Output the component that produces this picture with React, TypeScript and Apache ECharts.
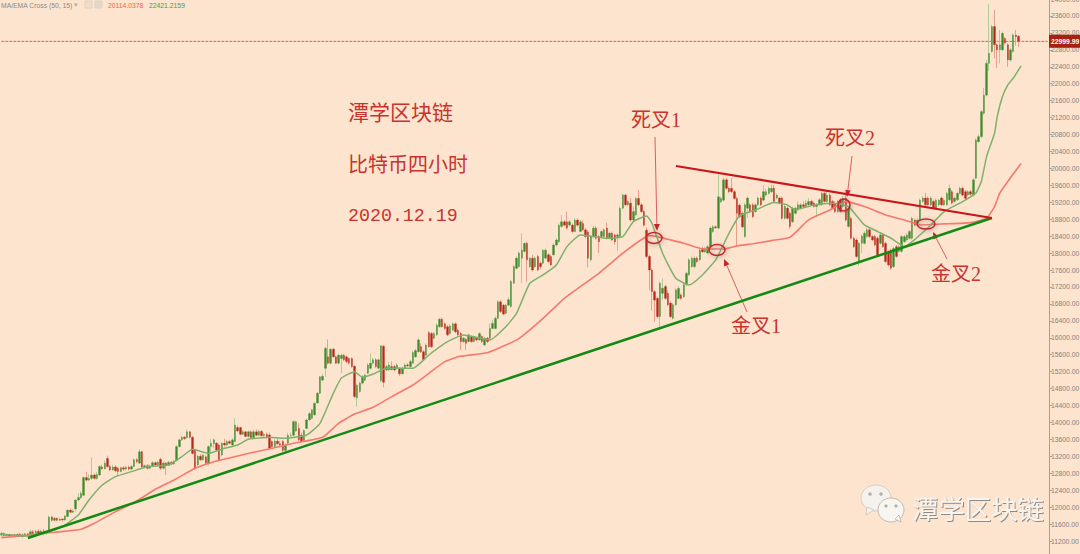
import React, { useEffect, useRef } from "react";
import * as echarts from "echarts";

// [open, close, low, high]
const ohlc: number[][] = [
[11340,11380,11310,11420],[11380,11330,11300,11400],[11330,11350,11310,11370],[11350,11320,11290,11370],[11320,11350,11300,11370],[11350,11320,11290,11370],[11320,11360,11310,11380],[11360,11330,11300,11390],[11330,11350,11270,11380],[11350,11370,11320,11390],[11370,11340,11310,11390],
[11340,11420,11330,11470],[11420,11380,11340,11460],[11380,11430,11360,11470],[11430,11390,11350,11480],[11390,11440,11370,11470],[11440,11400,11330,11490],[11400,11420,11350,11450],[11430,11770,11420,11800],
[11770,11690,11660,11790],[11690,11740,11670,11770],[11740,11690,11670,11750],[11690,11720,11670,11750],[11720,11700,11660,11740],[11700,11790,11680,11810],[11780,11930,11770,11950],[11930,11880,11860,11970],[11880,11910,11860,11950],[11960,12170,11900,12190],
[12170,12230,12140,12330],[12220,12330,12200,12370],[12280,12700,12270,12720],[12700,12640,12610,12830],[12640,12680,12620,12780],[12680,12760,12640,13180],[12760,12680,12650,12800],[12680,12770,12650,12830],[12760,12960,12740,12990],[12950,12910,12880,13000],[12910,13040,12890,13100],
[13150,12960,12930,13220],[12960,12880,12850,13000],[12880,12950,12860,13000],[12950,12860,12830,12990],[12920,12840,12740,12950],[12840,12930,12820,12960],[12930,12900,12860,12970],[12900,12940,12870,12980],[12940,12900,12870,12980],[12900,12960,12880,13000],
[12960,13120,12940,13150],[13120,13080,13040,13160],[13040,13310,13020,13370],[13310,12950,12910,13330],[12950,12980,12920,13010],[12980,12920,12890,13020],[12920,12960,12900,13010],[12960,13050,12940,13090],[13050,13000,12980,13080],[13000,13060,12980,13100],
[13130,12920,12880,13170],[12920,13040,12890,13080],[13040,12990,12760,13070],[12990,13060,12970,13090],[13060,13020,12990,13090],[13020,13080,13000,13110],[13100,13430,13080,13460],[13430,13590,13410,13620],[13590,13650,13570,13680],[13650,13620,13590,13680],
[13640,13780,13620,13830],[13780,13650,13620,13800],[13650,13270,13240,13680],[13350,12920,12890,13380],[13000,13200,12970,13230],[13200,13120,13090,13250],[13120,13230,13100,13260],[13190,13040,13010,13220],[13040,13430,12980,13460],[13430,13510,13290,13620],
[13500,13590,13400,13620],[13510,13350,13330,13540],[13470,13120,13090,13500],[13230,13510,13200,13540],[13510,13470,13430,13620],[13470,13550,13440,13590],[13550,13510,13490,13590],[13470,13590,13440,13630],[13550,13940,13530,14100],[13880,13800,13770,13930],
[13880,13720,13700,13900],[13720,13780,13700,13820],[13780,13670,13650,13800],[13670,13780,13640,13810],[13780,13640,13620,13810],[13640,13780,13620,13830],[13780,13700,13680,13840],[13700,13790,13680,13830],[13790,13690,13660,13820],[13690,13720,13660,13760],[13720,13650,13620,13760],
[13705,13390,13370,13760],[13550,13430,13400,13580],[13430,13560,13400,13600],[13560,13500,13470,13610],[13500,13470,13440,13560],[13550,13340,13300,13590],[13340,13470,13310,13510],[13510,13700,13480,13760],[13690,13700,13650,13760],[13700,14020,13680,14050],
[13800,14020,13780,14040],[13860,13590,13560,13980],[13700,13550,13530,13760],[13580,13810,13560,13840],[13860,14060,13840,14090],[14060,14210,14040,14240],[14100,14300,14080,14320],[14180,14450,14160,14480],[14460,14690,14440,14720],[14690,15080,14670,15100],
[15000,15090,14970,15150],[15280,15750,15080,15790],[15550,15400,15370,15960],[15400,15730,15370,15750],[15730,15550,15530,15760],[15550,15400,15380,15580],[15400,15590,15370,15620],[15510,15590,15160,15620],[15590,15480,15450,15620],[15550,15440,15400,15580],
[15510,15400,15370,15540],[15510,15320,15290,15540],[15330,14610,14580,15350],[14580,14880,14370,14920],[14730,14930,14700,14960],[14930,15080,14900,15120],[15000,15120,14970,15150],[15160,15360,15140,15400],[15280,15400,15250,15630],[15400,15480,15370,15520],
[15480,15320,15290,15520],[15280,15480,15250,15510],[14990,15810,14950,15830],[15800,14950,14830,15830],[15240,15320,15210,15360],[15240,15360,15220,15430],[15320,15250,15230,15440],[15320,15240,15210,15360],[15280,15360,15250,15400],[15280,15150,15100,15310],
[15150,15280,15130,15320],[15280,15360,15250,15400],[15360,15340,15310,15400],[15320,15440,15300,15480],[15400,15650,15390,15690],[15550,15700,15530,15740],[15670,15950,15650,16000],[15790,15670,15640,15870],[15670,15480,15450,15710],[15590,15830,15570,15870],
[16120,15790,15770,16160],[16100,15790,15760,16140],[15990,16100,15960,16130],[16070,16300,16040,16340],[16260,16440,16240,16470],[16440,16260,16240,16480],[16330,16220,16190,16360],[16260,16070,16040,16300],[16100,16280,16080,16320],[16180,16330,16160,16360],
[16330,16140,16110,16360],[16180,16070,16040,16220],[16100,15910,15710,16140],[15910,15990,15880,16020],[15960,15870,15710,15990],[15910,16070,15890,16100],[16030,15910,15880,16060],[15910,16030,15890,16060],[15990,15950,15920,16020],[15950,16100,15930,16130],
[16030,15910,15880,16060],[15830,15990,15800,16020],[15990,15910,15880,16020],[15990,16220,15960,16340],[16220,16340,16200,16420],[16220,16460,16200,16500],[16460,16850,16440,16890],[16850,16620,16590,16890],[16770,16560,16530,16800],[16580,16770,16550,16800],[16770,16900,16750,16960],
[16740,17330,16700,17370],[17290,17680,17270,17720],[17640,17880,17620,17920],[17680,18000,17660,18040],[17880,18070,17290,18470],[18040,18230,18010,18260],[18230,17840,17320,18270],[17680,17880,17650,17910],[17880,17600,17570,17960],[17680,17880,17650,17920],
[17920,17600,17570,17960],[17760,17680,17620,17800],[17760,18070,17730,18100],[17880,18070,17850,18110],[17960,17800,17770,18000],[17920,17720,17700,17960],[17960,18190,17930,18230],[18190,18310,18160,18350],[18270,18660,18240,18700],[18630,18740,18600,18900],
[18740,18660,18630,18780],[18740,18590,18560,18980],[18660,18740,18630,18780],[18660,18510,18480,18700],[18510,18780,18490,18830],[18780,18660,18630,18820],[18510,18740,18490,18780],[18700,18550,18520,18780],[18550,18390,18360,18600],[18500,17880,17660,18540],
[17840,18390,17800,18430],[18390,18590,18360,18640],[18590,18350,18320,18640],[18390,18270,18000,18430],[18390,18510,18360,18550],[18390,18550,18360,18590],[18590,18350,18320,18720],[18350,18470,18320,18500],[18470,18310,18280,18510],[18430,18270,18200,18460],
[18390,18430,18040,18460],[18390,19060,18360,19100],[19060,19370,19030,19410],[19370,19140,19110,19400],[19140,19220,19110,19250],[19180,18780,18750,19300],[18780,18980,18750,19100],[18900,19290,18870,19330],[19290,19140,19110,19490],[19140,18980,18950,19180],
[18980,18660,18630,19020],[18540,17920,17880,18600],[17920,17600,17120,17960],[17600,17090,16640,17640],[17090,16890,16380,17130],[16930,16500,16460,16970],[16500,17290,16230,17330],[17050,17170,16900,17400],[17210,16930,16900,17250],[17050,16780,16750,17120],
[16820,16500,16470,16860],[16460,16780,16430,16820],[16780,17130,16750,17170],[16930,17170,16900,17210],[17010,16930,16900,17050],[16970,17250,16940,17290],[17250,17520,17220,17560],[17490,17840,17460,17880],[17680,17880,17650,17920],[17680,17880,17650,17920],
[17880,17800,17770,17920],[17840,18070,17810,18100],[18110,18030,18000,18150],[18030,18110,18000,18150],[18000,18150,17970,18190],[18150,18590,18120,18630],[18510,18620,18480,18660],[18620,18600,18570,18660],[18590,19330,18560,19850],[19210,19290,19180,19330],
[19250,19730,19220,19780],[19730,19530,19500,19770],[19530,19450,19420,19570],[19530,19450,19420,19770],[19450,19290,19260,19490],[19290,18940,18150,19330],[19130,18860,18830,19170],[18940,18620,18590,18980],[18390,19140,18360,19180],
[19060,19300,18830,19340],[19140,18980,18950,19180],[19140,18860,18830,19180],[18980,19140,18950,19180],[19140,19300,19110,19340],[19300,19140,19110,19340],[19250,19450,19220,19600],[19370,19450,19340,19520],[19410,19530,19380,19570],[19450,19530,19420,19620],
[19530,19220,19190,19610],[19300,19370,19270,19410],[19300,19180,19150,19330],[19300,18820,18790,19340],[18820,19100,18790,19140],[19060,18820,18790,19100],[18940,18630,18570,18980],[18740,19060,18710,19100],[18940,19060,18910,19100],[19020,19140,18990,19220],
[19060,19140,19030,19180],[19140,19100,19070,19220],[19100,19180,19070,19250],[19140,19220,19110,19300],[19220,19140,19110,19260],[19180,19100,19070,19220],[19100,19140,18860,19180],[19140,19260,19110,19300],[19140,19410,19110,19450],[19410,19220,19190,19450],
[19220,19370,19190,19450],[19370,19140,19110,19410],[19220,19060,19030,19260],[19180,18980,18950,19220],[18980,19220,18950,19260],[19260,18980,18950,19300],[19100,19300,19070,19340],[19300,18780,18750,19480],[18630,19060,18600,19100],[18820,18350,18320,18860],
[18350,18150,18120,18390],[18310,17920,17880,18350],[17800,18230,17700,18270],[18230,18400,18000,18440],[18230,18470,18200,18520],[18390,18550,18360,18590],[18550,18390,18360,18590],[18390,18310,18280,18430],[18390,18190,18160,18430],[18350,17960,17930,18390],
[18230,18430,18200,18470],[18430,18150,18120,18470],[18230,17800,17770,18270],[18030,17720,17690,18070],[18070,17640,17610,18110],[17680,18110,17650,18150],[18150,17920,17890,18190],[18040,18150,18010,18190],[18040,18390,18010,18430],[18270,18390,18240,18430],
[18310,18430,18280,18470],[18350,18510,18320,18550],[18350,18820,18320,18860],[18780,18660,18630,18820],[18700,18780,18670,18820],[18780,19250,18750,19290],[19220,19300,19190,19340],[19300,19140,19110,19420],[19300,19140,19110,19340],[19140,19300,19110,19340],
[19220,19060,19030,19260],[19060,19250,19030,19290],[19140,19250,19110,19290],[19300,19140,19110,19340],[19140,19250,19110,19290],[19140,19410,19110,19450],[19260,19530,19230,19620],[19450,19180,19150,19490],[19220,19300,19190,19340],[19260,19410,19230,19450],
[19410,19530,19380,19570],[19530,19370,19340,19570],[19450,19290,19260,19490],[19370,19450,19340,19490],[19450,19390,19360,19490],[19370,19730,19340,19770],[19770,20670,19740,20710],[20630,20750,20600,20800],[20750,21340,20720,21380],[21300,21730,21270,21900],
[21730,22480,21700,22560],[22480,22720,22300,23880],[22760,23350,22730,23390],[23350,22920,22600,23740],[22920,22800,22370,22950],[22800,22920,22480,23270],[22800,23190,22770,23230],[23070,22960,22930,23100],[22920,22560,22400,22950],[22560,22800,22520,22840],
[22760,23150,22730,23190],[23150,23110,22900,23270],[23120,22999.99,22870,23150],
];

// [candle index, value]
const ma50: number[][] = [
[0,11281],[8,11320],[16,11383],[20,11407],[30,11478],[35,11619],[43,11895],[50,12107],[58,12422],[65,12642],[73,12918],[80,13075],[89,13209],[96,13311],[102,13390],[110,13508],[121,13650],[127,13980],[133,14200],[140,14358],[147,14610],[155,14885],[161,15161],[167,15436],[172,15554],[183,15649],[190,15830],[195,15987],[204,16459],[212,16933],[225,17523],[234,17996],[244,18413],[247,18389],[251,18326],[257,18232],[264,18098],[272,18098],[277,18169],[283,18220],[290,18295],[297,18374],[304,18783],[312,19019],[318,19216],[325,19098],[333,18901],[340,18783],[346,18665],[355,18689],[365,18720],[371,18822],[374,19100],[376,19420],[380,19780],[384,20114],
];
const ema15: number[][] = [
[0,11367],[8,11320],[16,11383],[23,11540],[29,11816],[33,12170],[38,12524],[43,12721],[49,12839],[55,12957],[63,12996],[68,13193],[72,13366],[78,13272],[84,13390],[89,13469],[93,13602],[101,13650],[106,13626],[115,13705],[120,13980],[125,14688],[128,15043],[133,15200],[136,15066],[140,15145],[145,15279],[155,15279],[161,15593],[168,15908],[174,16066],[184,15948],[190,16262],[194,16579],[199,17287],[204,17484],[209,17720],[213,18153],[218,18428],[223,18389],[228,18350],[234,18389],[238,18743],[243,18877],[245,18704],[249,17996],[254,17405],[259,17248],[264,17484],[269,17838],[274,18468],[278,18885],[284,19019],[291,19192],[296,19137],[299,19019],[306,19137],[313,19177],[319,19098],[325,18665],[330,18508],[335,18350],[340,18153],[343,18272],[350,18665],[355,18980],[362,19216],[367,19421],[369,19689],[371,20279],[374,20830],[375,21224],[377,21696],[379,21971],[381,22128],[384,22421],
];
const supportLine: number[][] = [[10, 11271], [373, 18829]];
const resistanceLine: number[][] = [[254, 20057], [373, 18829]];
const lastPrice = 22999.99;
const titleLines = ["潭学区块链", "比特币四小时", "2020.12.19"];
const watermark = "潭学区块链";
const indicatorName = "MA/EMA Cross (50, 15)";
const indicatorValues = ["20114.0378", "22421.2159"];
const blankBars = 11;
const categories = Array.from({ length: ohlc.length + blankBars }, (_, i) => String(i));
const priceLine: number[][] = [[0, lastPrice], [categories.length - 1, lastPrice]];

const RED = "#c8332d";
const cnFont = '"Liberation Serif","Noto Sans CJK SC"';

const label = (text: string, x: number, y: number) => ({
  type: "text", silent: true,
  style: { text, x, y, fill: RED, font: `20px ${cnFont}`, textVerticalAlign: "middle" },
});
const ellipse = (cx: number, cy: number, rx: number, ry: number) => ({
  type: "ellipse", silent: true, z: 10, shape: { cx, cy, rx, ry },
  style: { fill: "none", stroke: "#c8232b", lineWidth: 1.5, shadowBlur: 4, shadowColor: "rgba(90,90,90,0.6)", shadowOffsetX: 1, shadowOffsetY: 1 },
});
const arrow = (x1: number, y1: number, x2: number, y2: number) => {
  const a = Math.atan2(y2 - y1, x2 - x1);
  const h = 7, w = 3;
  const bx = x2 - h * Math.cos(a), by = y2 - h * Math.sin(a);
  const nx = -Math.sin(a) * w, ny = Math.cos(a) * w;
  return [
    { type: "line", silent: true, shape: { x1, y1, x2: bx, y2: by }, style: { stroke: "#d9605a", lineWidth: 1 } },
    { type: "polygon", silent: true, shape: { points: [[x2, y2], [bx + nx, by + ny], [bx - nx, by - ny]] }, style: { fill: "#c8232b" } },
  ];
};
const small = '6.8px "Liberation Sans"';

export default function App() {
  const ref = useRef<HTMLDivElement>(null);
  useEffect(() => {
    document.body.style.margin = "0";
    const chart = echarts.init(ref.current!, undefined, { renderer: "svg" });
    const bodies = ohlc.map(([o, c]) => [o, c, Math.min(o, c), Math.max(o, c)]);
    chart.setOption({
      animation: false,
      backgroundColor: "#FDE4CE",
      tooltip: { show: false },
      grid: { left: 0, top: -1, width: 1049, height: 559, containLabel: false, outerBoundsMode: "none" },
      xAxis: { type: "category", data: categories, show: false, boundaryGap: true },
      yAxis: {
        type: "value", position: "right", min: 10800, max: 24000, interval: 400, scale: true,
        splitLine: { show: false },
        axisLine: { show: true, lineStyle: { color: "#a3a09c", width: 1 } },
        axisTick: { show: true, length: 3, lineStyle: { color: "#a3a09c" } },
        axisLabel: { show: true, margin: 2, fontSize: 6.8, color: "#85827e", fontFamily: '"Liberation Sans"', formatter: (v: number) => (v < 11000 ? "" : v.toFixed(2)) },
      },
      series: [
        {
          type: "line", name: "price", data: priceLine, showSymbol: false, silent: true, z: 1,
          lineStyle: { type: [3, 1], color: "#e0644a", width: 1 },
          markLine: {
            symbol: "none", silent: true,
            data: [{ yAxis: lastPrice }],
            lineStyle: { width: 1, color: "rgba(0,0,0,0)" },
            label: { show: true, position: "end", distance: 0, formatter: lastPrice.toFixed(2), color: "#fff", fontSize: 6.8, fontWeight: "bold", fontFamily: '"Liberation Sans"', backgroundColor: "#a8200f", padding: [3, 2, 3, 2] },
          },
        },
        {
          type: "candlestick", name: "wick", data: ohlc, barWidth: 1, silent: true,
          itemStyle: { color: "#b7cf9f", color0: "#e9a792", borderColor: "#b0cb98", borderColor0: "#e6a08b", borderWidth: 1 },
        },
        {
          type: "candlestick", name: "body", data: bodies, barWidth: 2, silent: true,
          itemStyle: { color: "#3f8a2c", color0: "#b3281a", borderColor: "#3f8a2c", borderColor0: "#b3281a", borderWidth: 0.3 },
        },
        { type: "line", name: "MA50", data: ma50, smooth: 0.15, showSymbol: false, silent: true, lineStyle: { color: "#f6786e", width: 1.6 } },
        { type: "line", name: "EMA15", data: ema15, smooth: 0.15, showSymbol: false, silent: true, lineStyle: { color: "#7fb06c", width: 1.5 } },
        { type: "line", name: "support", data: supportLine, showSymbol: false, silent: true, lineStyle: { color: "#128a14", width: 2.5 } },
        { type: "line", name: "resistance", data: resistanceLine, showSymbol: false, silent: true, lineStyle: { color: "#c9151b", width: 2.2 } },
      ],
      graphic: [
        { type: "text", silent: true, style: { text: indicatorName, x: 1, y: 5, fill: "#8a8a8a", font: small, textVerticalAlign: "middle" } },
        { type: "text", silent: true, style: { text: "▾", x: 74, y: 5, fill: "#b3aca5", font: '7px "DejaVu Sans"', textVerticalAlign: "middle" } },
        { type: "rect", silent: true, shape: { x: 85, y: 1, width: 7, height: 7 }, style: { fill: "#f0dcc8", stroke: "#dcd2c6" } },
        { type: "rect", silent: true, shape: { x: 95, y: 1, width: 7, height: 7 }, style: { fill: "#e6d8c9", stroke: "#dcd2c6" } },
        { type: "text", silent: true, style: { text: indicatorValues[0], x: 108, y: 5, fill: "#f0605a", font: small, textVerticalAlign: "middle" } },
        { type: "text", silent: true, style: { text: indicatorValues[1], x: 149, y: 5, fill: "#4f9a3f", font: small, textVerticalAlign: "middle" } },
        { type: "text", silent: true, style: { text: titleLines[0], x: 348, y: 113, fill: RED, font: `21px ${cnFont}`, textVerticalAlign: "middle" } },
        { type: "text", silent: true, style: { text: titleLines[1], x: 348, y: 165, fill: RED, font: `20px ${cnFont}`, textVerticalAlign: "middle" } },
        { type: "text", silent: true, style: { text: titleLines[2], x: 348, y: 216, fill: RED, font: '18.3px "Liberation Mono"', textVerticalAlign: "middle" } },
        label("死叉1", 631, 120), label("金叉1", 731, 326), label("死叉2", 825, 138), label("金叉2", 931, 274),
        ellipse(654, 238, 8, 5.5), ellipse(717, 250, 8, 5.5), ellipse(844, 205, 6, 6), ellipse(926, 224, 9, 5),
        ...arrow(655, 137, 657, 231), ...arrow(747, 312, 724, 259), ...arrow(852, 156, 847, 197), ...arrow(947, 259, 933, 232),
        { type: "ellipse", silent: true, shape: { cx: 876, cy: 498, rx: 15, ry: 13 }, style: { fill: "#f5f2ee", stroke: "#bdb7b0", lineWidth: 0.6 } },
        { type: "polygon", silent: true, shape: { points: [[867, 507], [866, 515], [874, 510]] }, style: { fill: "#f5f2ee", stroke: "#bdb7b0", lineWidth: 0.6 } },
        { type: "ellipse", silent: true, shape: { cx: 891, cy: 510, rx: 13, ry: 12 }, style: { fill: "#f8f5f1", stroke: "#a9a39c", lineWidth: 0.7 } },
        { type: "polygon", silent: true, shape: { points: [[895, 519], [901, 522], [899, 515]] }, style: { fill: "#f8f5f1", stroke: "#a9a39c", lineWidth: 0.6 } },
        { type: "circle", silent: true, shape: { cx: 870, cy: 494, r: 1.8 }, style: { fill: "#b5afa8" } },
        { type: "circle", silent: true, shape: { cx: 881, cy: 494, r: 1.8 }, style: { fill: "#b5afa8" } },
        { type: "circle", silent: true, shape: { cx: 886, cy: 506, r: 1.6 }, style: { fill: "#b5afa8" } },
        { type: "circle", silent: true, shape: { cx: 896, cy: 506, r: 1.6 }, style: { fill: "#b5afa8" } },
        { type: "text", silent: true, style: { text: watermark, x: 912, y: 507, fill: "#f8f5f1", font: '26.4px "Noto Sans CJK SC"', textVerticalAlign: "middle", textShadowColor: "#8f8a84", textShadowBlur: 1, textShadowOffsetX: 1, textShadowOffsetY: 1 } },
      ],
    });
    return () => chart.dispose();
  }, []);
  return <div ref={ref} style={{ width: 1080, height: 554 }} />;
}
